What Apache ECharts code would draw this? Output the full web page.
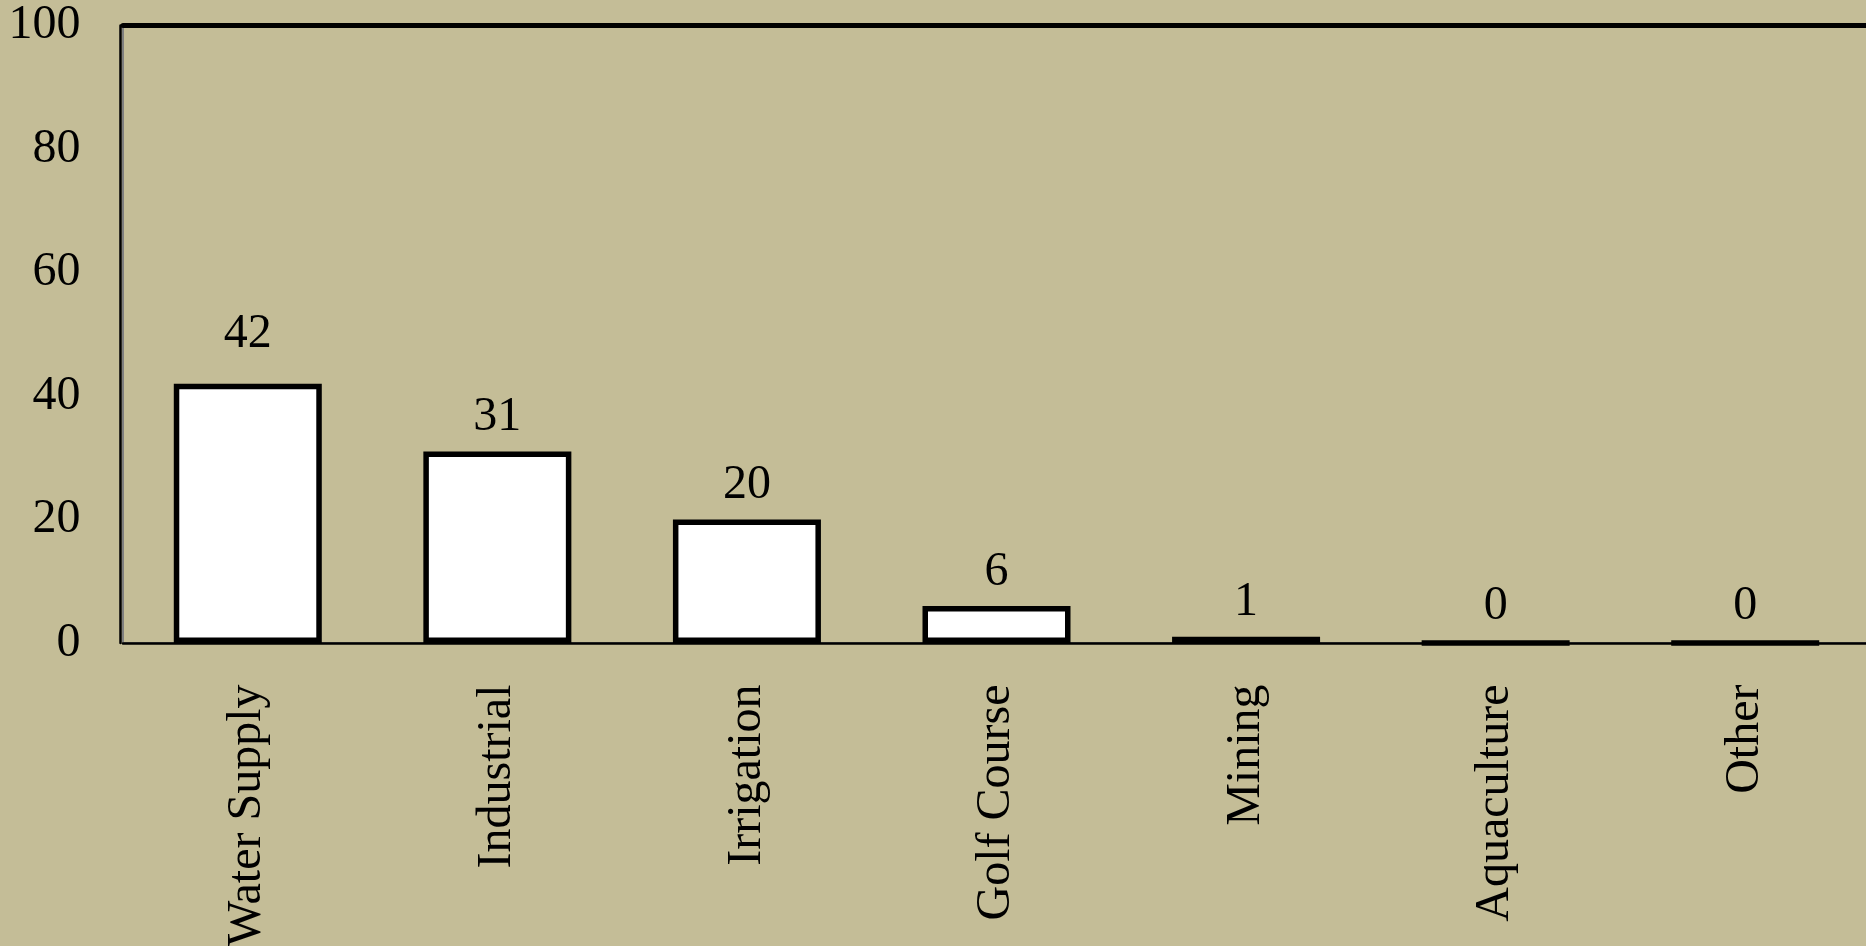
<!DOCTYPE html>
<html>
<head>
<meta charset="utf-8">
<title>Water use by category</title>
<script src="https://cdn.jsdelivr.net/npm/echarts@6/dist/echarts.min.js"></script>
<style>
  html, body { margin: 0; padding: 0; background: #C4BD97; }
  #chart { width: 1866px; height: 946px; }
</style>
</head>
<body>
<div id="chart"></div>
<script>
// Categories and their values (percent)
const categories = ['Water Supply', 'Industrial', 'Irrigation', 'Golf Course', 'Mining', 'Aquaculture', 'Other'];
const values = [42, 31, 20, 6, 1, 0, 0];
const yTicks = [0, 20, 40, 60, 80, 100];

const FONT = "'Liberation Serif', 'Times New Roman', serif";
const FS = 48;

const chart = echarts.init(document.getElementById('chart'), null, { renderer: 'canvas' });

const barData = values.map((v, i) => {
  const item = { value: v };
  // the tallest bar carries its label a little higher
  if (i === 0) item.label = { distance: 25 };
  return item;
});

chart.setOption({
  backgroundColor: '#C4BD97',
  animation: false,
  grid: {
    left: 123, right: -4, top: 25.5, bottom: 303,
    outerBoundsMode: 'none',
    containLabel: false,
    show: true,
    backgroundColor: 'transparent',
    borderColor: '#7f7f7f',
    borderWidth: 2
  },
  xAxis: [{
    type: 'category',
    data: categories,
    position: 'bottom',
    offset: 2.5,
    axisLine: { show: true, lineStyle: { color: '#000', width: 2.5 } },
    axisTick: { show: false },
    axisLabel: {
      rotate: 90,
      margin: 39,
      color: '#000',
      fontFamily: FONT,
      fontSize: FS,
      interval: 0
    },
    splitLine: { show: false }
  }, {
    type: 'category',
    data: categories,
    position: 'top',
    axisLine: { show: true, lineStyle: { color: '#000', width: 5 } },
    axisTick: { show: false },
    axisLabel: { show: false },
    splitLine: { show: false }
  }],
  yAxis: {
    type: 'value',
    min: yTicks[0],
    max: yTicks[yTicks.length - 1],
    interval: yTicks[1] - yTicks[0],
    offset: 2.5,
    axisLine: { show: true, lineStyle: { color: '#000', width: 2.5 } },
    axisTick: { show: false },
    splitLine: { show: false },
    axisLabel: {
      margin: 40,
      color: '#000',
      fontFamily: FONT,
      fontSize: FS,
      padding: [5, 0, 0, 0]
    }
  },
  series: [{
    type: 'bar',
    xAxisIndex: 0,
    data: barData,
    barWidth: 148,
    itemStyle: {
      color: '#ffffff',
      borderColor: '#000000',
      borderWidth: 5.5
    },
    label: {
      show: true,
      position: 'top',
      distance: 10,
      color: '#000',
      fontFamily: FONT,
      fontSize: FS,
      formatter: (p) => String(Math.round(p.value))
    }
  }]
});
</script>
</body>
</html>
